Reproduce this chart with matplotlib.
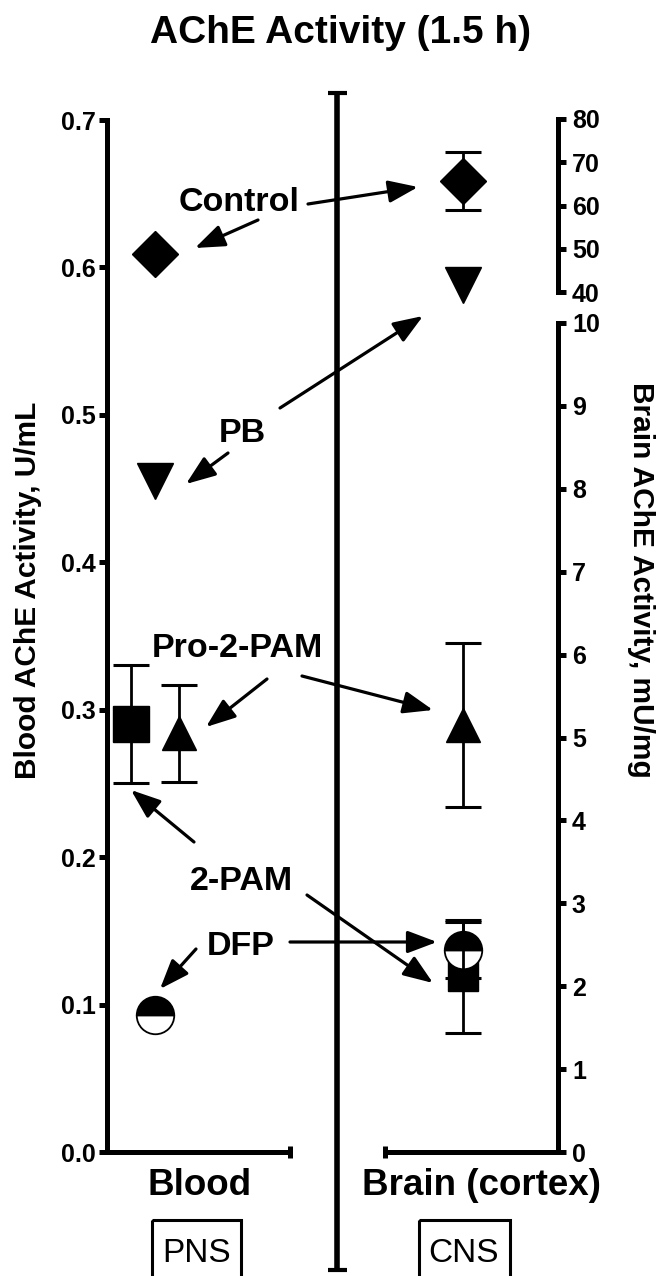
import matplotlib
matplotlib.use("Agg")
import matplotlib.pyplot as plt
from matplotlib.patches import Rectangle

plt.rcParams['font.family'] = ['Liberation Sans', 'DejaVu Sans']

# ---------------- data ----------------
groups = ["Control", "PB", "Pro-2-PAM", "2-PAM", "DFP"]
blood_mean = [0.609, 0.455, 0.284, 0.290, 0.093]
blood_err = [0.0, 0.0, 0.033, 0.040, 0.0]
brain_mean = [65.7, 41.6, 5.15, 2.12, 2.44]
brain_err = [6.7, 0.0, 0.99, 0.68, 0.34]
left_ticks = [0.0, 0.1, 0.2, 0.3, 0.4, 0.5, 0.6, 0.7]
right_low_ticks = list(range(0, 11))
right_up_ticks = [40, 50, 60, 70, 80]

# ---------------- styles ----------------
W, H = 660, 1276
fig = plt.figure(figsize=(W / 100, H / 100), dpi=100)

markers = {"Control": ("D", 23), "PB": ("v", 26), "Pro-2-PAM": ("^", 25),
           "2-PAM": ("s", 26), "DFP": ("o", 27)}
brain_ms_override = {"2-PAM": 21}
blood_x = {"Control": 0.264, "PB": 0.264, "Pro-2-PAM": 0.396, "2-PAM": 0.132, "DFP": 0.264}
brain_x = 0.448

SPW = 3.6
TICKFS = 18


def fax(x0, y_top, x1, y_bot):
    return fig.add_axes([x0 / W, (H - y_bot) / H, (x1 - x0) / W, (y_bot - y_top) / H])


axL = fax(107, 120, 290, 1152)
axR = fax(385, 323, 558, 1152)
axU = fax(385, 119, 558, 292)

for a in (axL, axR, axU):
    a.set_facecolor('none')
    for s in a.spines.values():
        s.set_visible(False)
        s.set_linewidth(SPW)
        s.set_capstyle('projecting')

# left axis
axL.spines['left'].set_visible(True)
axL.spines['bottom'].set_visible(True)
axL.set_xlim(0, 1)
axL.set_ylim(0, 0.7)
axL.set_yticks(left_ticks)
axL.set_yticklabels([f"{t:.1f}" for t in left_ticks], fontsize=TICKFS, fontweight='bold')
axL.tick_params(axis='y', direction='out', length=6, width=SPW, pad=2)
axL.set_xticks([1.0])
axL.set_xticklabels([])
axL.tick_params(axis='x', direction='inout', length=9, width=SPW)

# right lower axis
axR.spines['right'].set_visible(True)
axR.spines['bottom'].set_visible(True)
axR.set_xlim(0, 1)
axR.set_ylim(0, 10)
axR.yaxis.tick_right()
axR.set_yticks(right_low_ticks)
axR.set_yticklabels([str(t) for t in right_low_ticks], fontsize=TICKFS, fontweight='bold')
axR.set_yticks([10], minor=True)
axR.tick_params(axis='y', which='major', direction='out', length=6, width=SPW, pad=4)
axR.tick_params(axis='y', which='minor', direction='in', length=6, width=SPW, right=True, left=False)
axR.set_xticks([0.0])
axR.set_xticklabels([])
axR.tick_params(axis='x', direction='inout', length=9, width=SPW)

# right upper axis
axU.spines['right'].set_visible(True)
axU.set_xlim(0, 1)
axU.set_ylim(40, 80)
axU.yaxis.tick_right()
axU.set_yticks(right_up_ticks)
axU.set_yticklabels([str(t) for t in right_up_ticks], fontsize=TICKFS, fontweight='bold')
axU.set_yticks([40, 80], minor=True)
axU.tick_params(axis='y', which='major', direction='out', length=6, width=SPW, pad=4)
axU.tick_params(axis='y', which='minor', direction='in', length=6, width=SPW, right=True, left=False)
axU.set_xticks([])

ebkw = dict(fmt='none', ecolor='k', elinewidth=2.0, capsize=13, capthick=2.2, clip_on=False)


def draw_point(ax, x, y, err, g, err_on_top=False, ms=None):
    m, ms0 = markers[g]
    ms = ms0 if ms is None else ms
    kw = dict(marker=m, markersize=ms, linestyle='none', color='k',
              markeredgecolor='k', clip_on=False, zorder=3)
    if g == "DFP":
        kw.update(fillstyle='top', markerfacecolor='k', markerfacecoloralt='w', markeredgewidth=1.3)
    else:
        kw.update(markerfacecolor='k', markeredgewidth=1.0)
    if err > 0:
        ax.errorbar([x], [y], yerr=[err], zorder=4 if err_on_top else 2, **ebkw)
    ax.plot([x], [y], **kw)


for g, v, e in zip(groups, blood_mean, blood_err):
    draw_point(axL, blood_x[g], v, e, g)

for g, v, e in zip(groups, brain_mean, brain_err):
    ax = axU if v >= 40 else axR
    draw_point(ax, brain_x, v, e, g, err_on_top=(g == "DFP"), ms=brain_ms_override.get(g))

# ---------------- overlay: annotations & labels ----------------
ov = fig.add_axes([0, 0, 1, 1])
ov.set_xlim(0, W)
ov.set_ylim(H, 0)
ov.axis('off')
ov.set_facecolor('none')

# central divider
ov.plot([337, 337], [93, 1270], color='k', lw=4.0, solid_capstyle='butt')
ov.plot([328, 347], [93, 93], color='k', lw=3.0, solid_capstyle='butt')
ov.plot([328, 347], [1270, 1270], color='k', lw=3.0, solid_capstyle='butt')

lab_fs = 24.5
labels = [
    ("Control", (239, 211), [((258, 220), (195, 248)), ((308, 204), (418, 187))]),
    ("PB", (242, 442), [((228, 453), (186, 484)), ((280, 408), (423, 316))]),
    ("Pro-2-PAM", (237, 657), [((267, 679), (206, 727)), ((302, 676), (433, 710))]),
    ("2-PAM", (241, 890), [((194, 842), (131, 790)), ((307, 895), (433, 983))]),
    ("DFP", (241, 955), [((196, 949), (160, 989)), ((290, 942), (437, 942))]),
]
for txt, (tx, ty), arrows in labels:
    ov.text(tx, ty, txt, ha='center', va='baseline', fontsize=lab_fs, fontweight='bold')
    for start, tip in arrows:
        ov.annotate('', xy=tip, xytext=start,
                    arrowprops=dict(arrowstyle='-|>,head_length=0.9,head_width=0.34',
                                    mutation_scale=20, lw=2.3, color='k',
                                    shrinkA=0, shrinkB=0))

ov.text(341, 43, "AChE Activity (1.5 h)", ha='center', va='baseline', fontsize=28, fontweight='bold')
ov.text(28, 590, "Blood AChE Activity, U/mL", ha='center', va='center', rotation=90,
        fontsize=21.5, fontweight='bold')
ov.text(641, 580, "Brain AChE Activity, mU/mg", ha='center', va='center', rotation=270,
        fontsize=21.5, fontweight='bold')
ov.text(200, 1195, "Blood", ha='center', va='baseline', fontsize=26.5, fontweight='bold')
ov.text(482, 1195, "Brain (cortex)", ha='center', va='baseline', fontsize=26.5, fontweight='bold')

ov.add_patch(Rectangle((152, 1220), 89, 70, fill=False, lw=2.2, ec='k'))
ov.add_patch(Rectangle((419, 1220), 91, 70, fill=False, lw=2.2, ec='k'))
ov.text(197, 1262, "PNS", ha='center', va='baseline', fontsize=24)
ov.text(464, 1262, "CNS", ha='center', va='baseline', fontsize=24)

fig.savefig("out.png", dpi=100)
